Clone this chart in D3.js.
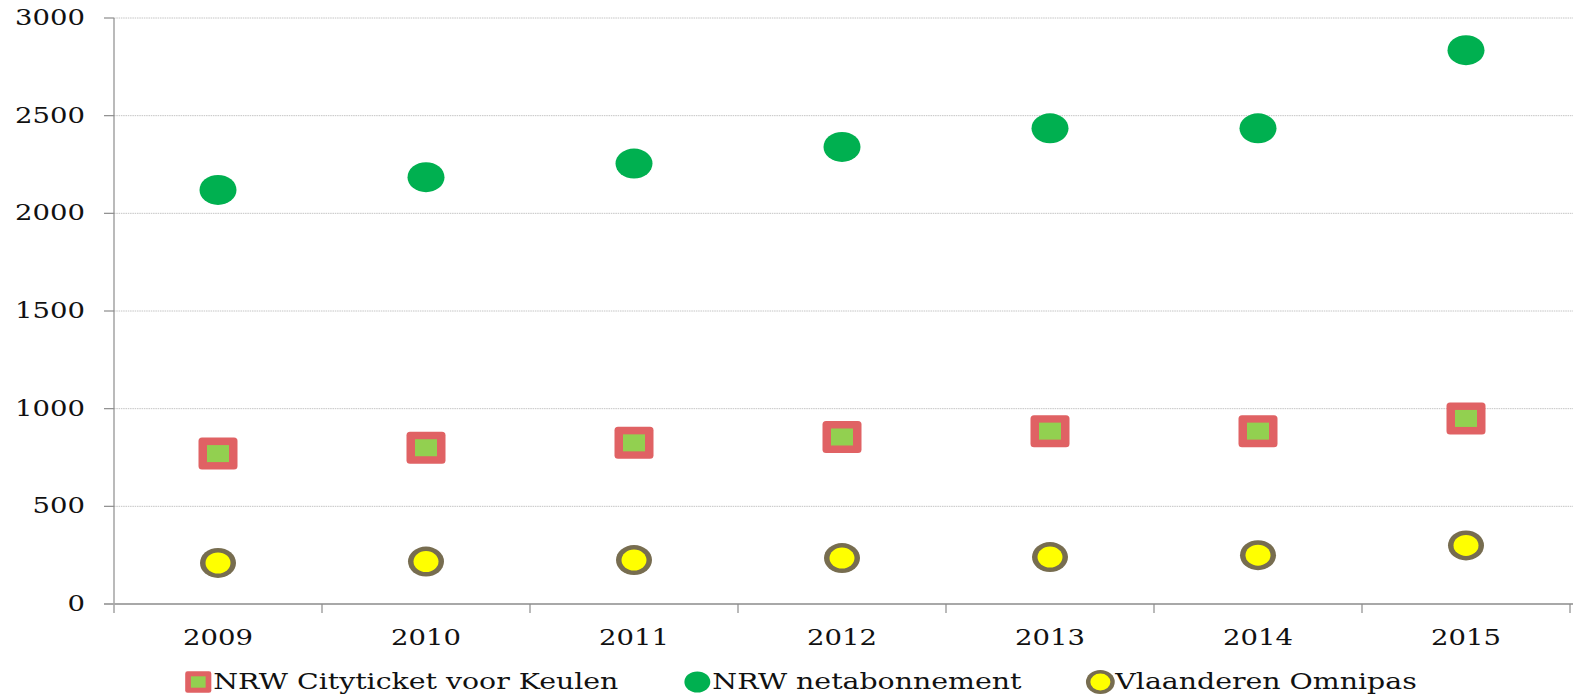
<!DOCTYPE html>
<html>
<head>
<meta charset="utf-8">
<script src="https://cdn.jsdelivr.net/npm/d3@7"></script>
<style>
  html, body { margin: 0; padding: 0; background: #fff; }
  svg { display: block; }
  text { font-family: "DejaVu Serif", "Liberation Serif", serif; fill: #111; }
</style>
</head>
<body>
<svg id="chart" width="1573" height="695"></svg>
<script>
// Yearly prices of three public transport passes
const years = ["2009", "2010", "2011", "2012", "2013", "2014", "2015"];
const cityticket = [770, 800, 825, 855, 885, 885, 950];
const netabonnement = [2120, 2185, 2255, 2340, 2435, 2435, 2835];
const omnipas = [210, 217, 225, 235, 240, 250, 300];
const yTicks = [0, 500, 1000, 1500, 2000, 2500, 3000];
const seriesNames = ["NRW Cityticket voor Keulen", "NRW netabonnement", "Vlaanderen Omnipas"];

const W = 1573, H = 695;
const plot = { left: 114, right: 1570, top: 18, bottom: 604 };
const textStretch = 1.25;   // wide lettering
const fontSize = 22;
const legendFontSize = 22.7;

const svg = d3.select("#chart");

const x = d3.scaleBand().domain(years).range([plot.left, plot.right]).padding(0);
const y = d3.scaleLinear().domain([0, 3000]).range([plot.bottom, plot.top]);

function stretchedText(g, str, px, py, anchor, size) {
  return g.append("text")
    .attr("transform", `translate(${px},${py}) scale(${textStretch},1)`)
    .attr("text-anchor", anchor)
    .attr("font-size", size || fontSize)
    .text(str);
}

// Horizontal gridlines
svg.append("g")
  .selectAll("line")
  .data(yTicks.filter(d => d > 0))
  .join("line")
  .attr("x1", plot.left).attr("x2", W)
  .attr("y1", d => y(d)).attr("y2", d => y(d))
  .attr("stroke", "#c4c4c4")
  .attr("stroke-width", 1)
  .attr("stroke-dasharray", "1.5,0.8");

// Y axis: line, outward ticks, labels
const yAxisG = svg.append("g");
yAxisG.append("line")
  .attr("x1", plot.left).attr("x2", plot.left)
  .attr("y1", y(3000)).attr("y2", plot.bottom + 9)
  .attr("stroke", "#8c8c8c").attr("stroke-width", 1.2);
yAxisG.selectAll("line.tick")
  .data(yTicks)
  .join("line")
  .attr("class", "tick")
  .attr("x1", plot.left - 10).attr("x2", plot.left)
  .attr("y1", d => y(d)).attr("y2", d => y(d))
  .attr("stroke", "#8c8c8c").attr("stroke-width", 1.2);
yTicks.forEach(d => stretchedText(yAxisG, String(d), 85, y(d) + 7, "end"));

// X axis: baseline, boundary ticks, year labels
const xAxisG = svg.append("g");
xAxisG.append("line")
  .attr("x1", plot.left - 10).attr("x2", W)
  .attr("y1", plot.bottom).attr("y2", plot.bottom)
  .attr("stroke", "#a8a8a8").attr("stroke-width", 2);
const boundaries = years.map(d => x(d)).concat([x(years[years.length - 1]) + x.bandwidth()]);
xAxisG.selectAll("line.tick")
  .data(boundaries.slice(1))
  .join("line")
  .attr("class", "tick")
  .attr("x1", d => d).attr("x2", d => d)
  .attr("y1", plot.bottom).attr("y2", plot.bottom + 9)
  .attr("stroke", "#8c8c8c").attr("stroke-width", 1.2);
years.forEach(d => stretchedText(xAxisG, d, x(d) + x.bandwidth() / 2, 645, "middle"));

const cx = d => x(d) + x.bandwidth() / 2;

// Marker drawers
const marks = {
  square(g, px, py, s) {
    g.append("rect")
      .attr("x", px - 19.5 * s).attr("y", py - 16 * s)
      .attr("width", 39 * s).attr("height", 32 * s)
      .attr("rx", 3.5 * s)
      .attr("fill", "#e06264");
    g.append("rect")
      .attr("x", px - 11 * s).attr("y", py - 8.5 * s)
      .attr("width", 22 * s).attr("height", 17 * s)
      .attr("fill", "#92d050");
  },
  dot(g, px, py, s) {
    g.append("ellipse")
      .attr("cx", px).attr("cy", py)
      .attr("rx", 18.5 * s).attr("ry", 15 * s)
      .attr("fill", "#00b050");
  },
  ring(g, px, py, s) {
    g.append("ellipse")
      .attr("cx", px).attr("cy", py)
      .attr("rx", 18 * s).attr("ry", 15 * s)
      .attr("fill", "#776d50");
    g.append("ellipse")
      .attr("cx", px).attr("cy", py)
      .attr("rx", 12.5 * s).attr("ry", 10.5 * s)
      .attr("fill", "#ffff00");
  }
};

const series = [
  { name: seriesNames[0], values: cityticket, mark: "square" },
  { name: seriesNames[1], values: netabonnement, mark: "dot" },
  { name: seriesNames[2], values: omnipas, mark: "ring" }
];

// Data points
series.forEach(sr => {
  const g = svg.append("g");
  years.forEach((yr, i) => marks[sr.mark](g, cx(yr), y(sr.values[i]), 1));
});

// Legend
const legendG = svg.append("g");
const legendY = 682;
const markerScale = [0.67, 0.7, 0.8];
const markerW = 26;
let items = [];
let total = 0;
series.forEach((sr, i) => {
  const t = stretchedText(legendG, sr.name, 0, 0, "start", legendFontSize);
  const w = t.node().getComputedTextLength() * textStretch;
  t.remove();
  items.push(w);
  total += markerW + 2 + w;
});
const gap = 66;
total += gap * (series.length - 1);
let lx = 801 - total / 2;
series.forEach((sr, i) => {
  marks[sr.mark](legendG, lx + markerW / 2, legendY, markerScale[i]);
  stretchedText(legendG, sr.name, lx + markerW + 2, legendY + 7, "start", legendFontSize);
  lx += markerW + 2 + items[i] + gap;
});
</script>
</body>
</html>
